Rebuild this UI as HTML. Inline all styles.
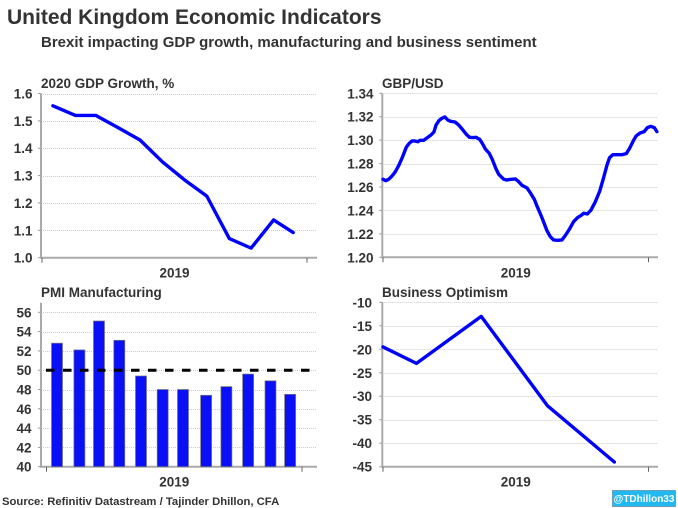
<!DOCTYPE html>
<html lang="en">
<head>
<meta charset="utf-8">
<title>United Kingdom Economic Indicators</title>
<style>
html,body{margin:0;padding:0;background:#fff;}
body{width:678px;height:508px;overflow:hidden;}
svg{display:block;font-family:"Liberation Sans",Arial,sans-serif;font-weight:bold;fill:#333;}
</style>
</head>
<body>
<svg id="chart" width="678" height="508" viewBox="0 0 678 508" xmlns="http://www.w3.org/2000/svg">
  <text x="7" y="24" font-size="21">United Kingdom Economic Indicators</text>
  <text x="41" y="47" font-size="15">Brexit impacting GDP growth, manufacturing and business sentiment</text>
  <text x="41" y="88" font-size="13.5">2020 GDP Growth, %</text>
  <text x="382" y="88" font-size="13.5">GBP/USD</text>
  <text x="41" y="297" font-size="13.5">PMI Manufacturing</text>
  <text x="382" y="297" font-size="13.5">Business Optimism</text>
  <text x="2" y="505" font-size="11.3">Source: Refinitiv Datastream / Tajinder Dhillon, CFA</text>
  <g>
    <rect x="612.5" y="490.5" width="63" height="16" fill="#22b8f2" stroke="#6f9fb5" stroke-width="1"></rect>
    <text x="644" y="502" font-size="10" text-anchor="middle" style="fill:#fff">@TDhillon33</text>
  </g>
</svg>
<script>
// Shared x axis: day of year in 2019
var yearLabel = '2019';

// GDP forecast
var gdpDays = [15, 46, 74, 105, 135, 166, 196, 227, 258, 288, 319, 346];
var gdpValues = [1.555, 1.52, 1.52, 1.475, 1.43, 1.35, 1.285, 1.225, 1.07, 1.035, 1.138, 1.092];
var gdpTicks = [1.0, 1.1, 1.2, 1.3, 1.4, 1.5, 1.6];
var gdpTickLabels = ['1.0', '1.1', '1.2', '1.3', '1.4', '1.5', '1.6'];

// GBP/USD
var gbpDays = [0, 3.7, 7.8, 12.4, 17, 22, 27, 32, 36, 40, 43.5, 48, 51, 56, 61, 66, 70, 73, 77, 81, 85, 89, 93, 99, 104, 109, 115, 119, 124, 128, 133, 137, 141, 146, 150, 155, 159, 166, 170, 176, 182, 186, 191, 198, 203, 208, 212, 217, 221, 225, 230, 234.5, 240, 246, 250.5, 256.5, 262, 267.5, 272, 276, 281, 286, 292, 298, 303, 308, 311.5, 316, 321.5, 328.5, 334.5, 339, 344, 348, 353.5, 359, 363.5, 368, 373, 376.5];
var gbpValues = [1.2666, 1.2654, 1.2666, 1.2694, 1.2731, 1.2788, 1.2859, 1.2939, 1.2973, 1.2993, 1.2993, 1.2987, 1.2999, 1.2999, 1.3022, 1.3044, 1.307, 1.313, 1.3167, 1.3187, 1.3198, 1.3172, 1.3161, 1.3155, 1.313, 1.3093, 1.3047, 1.3024, 1.3022, 1.3024, 1.3007, 1.2967, 1.2922, 1.2888, 1.2839, 1.276, 1.2709, 1.2666, 1.266, 1.2666, 1.2669, 1.2649, 1.2615, 1.2592, 1.2546, 1.2495, 1.2433, 1.2361, 1.2299, 1.2233, 1.2176, 1.2148, 1.2145, 1.2148, 1.2185, 1.2242, 1.2304, 1.2339, 1.2356, 1.2376, 1.237, 1.2404, 1.2475, 1.2566, 1.2674, 1.2788, 1.2851, 1.2876, 1.2876, 1.2876, 1.2885, 1.293, 1.2993, 1.3036, 1.3061, 1.3073, 1.3107, 1.3118, 1.3107, 1.3073];
var gbpTicks = [1.20, 1.22, 1.24, 1.26, 1.28, 1.30, 1.32, 1.34];
var gbpTickLabels = ['1.20', '1.22', '1.24', '1.26', '1.28', '1.30', '1.32', '1.34'];

// PMI Manufacturing
var pmiDays = [15, 47, 75, 104, 135, 166, 195, 228, 257, 288, 320, 348];
var pmiValues = [52.8, 52.1, 55.1, 53.1, 49.4, 48.0, 48.0, 47.4, 48.3, 49.6, 48.9, 47.5];
var pmiThreshold = [50];
var pmiTicks = [40, 42, 44, 46, 48, 50, 52, 54, 56];
var pmiTickLabels = ['40', '42', '44', '46', '48', '50', '52', '54', '56'];

// Business optimism
var bizDays = [0, 46, 135, 226, 318];
var bizValues = [-19.5, -23, -13, -32, -44];
var bizTicks = [-45, -40, -35, -30, -25, -20, -15, -10];
var bizTickLabels = ['-45', '-40', '-35', '-30', '-25', '-20', '-15', '-10'];

var NS = 'http://www.w3.org/2000/svg';
var root = document.getElementById('chart');

function make(tag, name, parent) {
  var el = document.createElementNS(NS, tag);
  
  
  parent.appendChild(el);
  return el;
}

function linearScale(d0, d1, r0, r1) {
  return function (v) { return r0 + (v - d0) / (d1 - d0) * (r1 - r0); };
}

function drawAxes(prefix, box, ticks, labels, x, y) {
  var i, el;
  var g = make('g', prefix + '-axes', root);
  for (i = 0; i < ticks.length; i++) {
    var py = y(ticks[i]);
    if (i > 0) {
      el = make('line', prefix + '-gridline', g);
      el.setAttribute('x1', box.left);
      el.setAttribute('x2', box.right);
      el.setAttribute('y1', Math.round(py) + 0.5);
      el.setAttribute('y2', Math.round(py) + 0.5);
      el.setAttribute('stroke', '#cccccc');
      el.setAttribute('stroke-width', '1');
      el.setAttribute('stroke-dasharray', '1 1');
    }
    el = make('line', prefix + '-y-tick', g);
    el.setAttribute('x1', box.left - 3);
    el.setAttribute('x2', box.left);
    el.setAttribute('y1', py);
    el.setAttribute('y2', py);
    el.setAttribute('stroke', '#999');
    el.setAttribute('stroke-width', '1');
    el = make('text', prefix + '-y-tick-label', g);
    el.setAttribute('x', box.labelX);
    el.setAttribute('y', py + 5);
    el.setAttribute('font-size', '13.5');
    el.setAttribute('text-anchor', 'end');
    el.textContent = labels[i];
  }
  el = make('line', prefix + '-y-axis', g);
  el.setAttribute('x1', box.left);
  el.setAttribute('x2', box.left);
  el.setAttribute('y1', box.top);
  el.setAttribute('y2', box.bottom + 1);
  el.setAttribute('stroke', '#aaa');
  el.setAttribute('stroke-width', '2');
  el = make('line', prefix + '-x-axis', g);
  el.setAttribute('x1', box.left);
  el.setAttribute('x2', box.right);
  el.setAttribute('y1', box.bottom);
  el.setAttribute('y2', box.bottom);
  el.setAttribute('stroke', '#aaa');
  el.setAttribute('stroke-width', '2');
  [0, 365].forEach(function (day) {
    var t = make('line', prefix + '-x-tick', g);
    t.setAttribute('x1', x(day));
    t.setAttribute('x2', x(day));
    t.setAttribute('y1', box.bottom);
    t.setAttribute('y2', box.bottom + 5);
    t.setAttribute('stroke', '#666');
    t.setAttribute('stroke-width', '1');
  });
  el = make('text', prefix + '-x-axis-label', g);
  el.setAttribute('x', (x(0) + x(365)) / 2);
  el.setAttribute('y', box.bottom + 20);
  el.setAttribute('font-size', '13.5');
  el.setAttribute('text-anchor', 'middle');
  el.textContent = yearLabel;
}

function drawLine(name, days, values, x, y, width) {
  var pts = days.map(function (d, i) {
    return x(d).toFixed(2) + ',' + y(values[i]).toFixed(2);
  }).join(' ');
  var el = make('polyline', name, root);
  el.setAttribute('points', pts);
  el.setAttribute('fill', 'none');
  el.setAttribute('stroke', '#0000ff');
  el.setAttribute('stroke-width', width);
  el.setAttribute('stroke-linejoin', 'round');
  el.setAttribute('stroke-linecap', 'round');
}

// GDP panel
var gdpBox = { left: 41, right: 317, top: 93.5, bottom: 257.7, labelX: 32.5 };
var gdpX = linearScale(0, 365, 42, 307);
var gdpY = linearScale(1.0, 1.6, gdpBox.bottom, gdpBox.top);
drawAxes('gdp', gdpBox, gdpTicks, gdpTickLabels, gdpX, gdpY);
drawLine('gdp-growth-line', gdpDays, gdpValues, gdpX, gdpY, 3.4);

// GBP panel
var gbpBox = { left: 382.3, right: 658, top: 93.3, bottom: 257.3, labelX: 373.5 };
var gbpX = linearScale(0, 365, 383, 648.5);
var gbpY = linearScale(1.20, 1.34, gbpBox.bottom, gbpBox.top);
drawAxes('gbp', gbpBox, gbpTicks, gbpTickLabels, gbpX, gbpY);
drawLine('gbp-usd-line', gbpDays, gbpValues, gbpX, gbpY, 3.4);

// PMI panel
var pmiBox = { left: 41, right: 317, top: 302.7, bottom: 466.7, labelX: 31.5 };
var pmiX = linearScale(0, 365, 46.5, 302);
var pmiY = linearScale(40, 56, pmiBox.bottom, 312.3);
drawAxes('pmi', pmiBox, pmiTicks, pmiTickLabels, pmiX, pmiY);
var barWidth = 11;
pmiValues.forEach(function (v, i) {
  var bar = make('rect', 'pmi-bar', root);
  bar.setAttribute('x', pmiX(pmiDays[i]) - barWidth / 2);
  bar.setAttribute('y', pmiY(v));
  bar.setAttribute('width', barWidth);
  bar.setAttribute('height', pmiY(40) - pmiY(v));
  bar.setAttribute('fill', '#0a10f5');
  bar.setAttribute('stroke', '#777');
  bar.setAttribute('stroke-width', '0.7');
});
var refLine = make('line', 'pmi-50-threshold-line', root);
refLine.setAttribute('x1', 46);
refLine.setAttribute('x2', 311);
refLine.setAttribute('y1', pmiY(pmiThreshold[0]));
refLine.setAttribute('y2', pmiY(pmiThreshold[0]));
refLine.setAttribute('stroke', '#000');
refLine.setAttribute('stroke-width', '3');
refLine.setAttribute('stroke-dasharray', '8.5 8.5');

// Business optimism panel
var bizBox = { left: 382.3, right: 658, top: 302.3, bottom: 466.7, labelX: 372 };
var bizX = linearScale(0, 365, 383, 648.5);
var bizY = linearScale(-45, -10, bizBox.bottom, bizBox.top);
drawAxes('business', bizBox, bizTicks, bizTickLabels, bizX, bizY);
drawLine('business-optimism-line', bizDays, bizValues, bizX, bizY, 3.4);
</script>
</body>
</html>
